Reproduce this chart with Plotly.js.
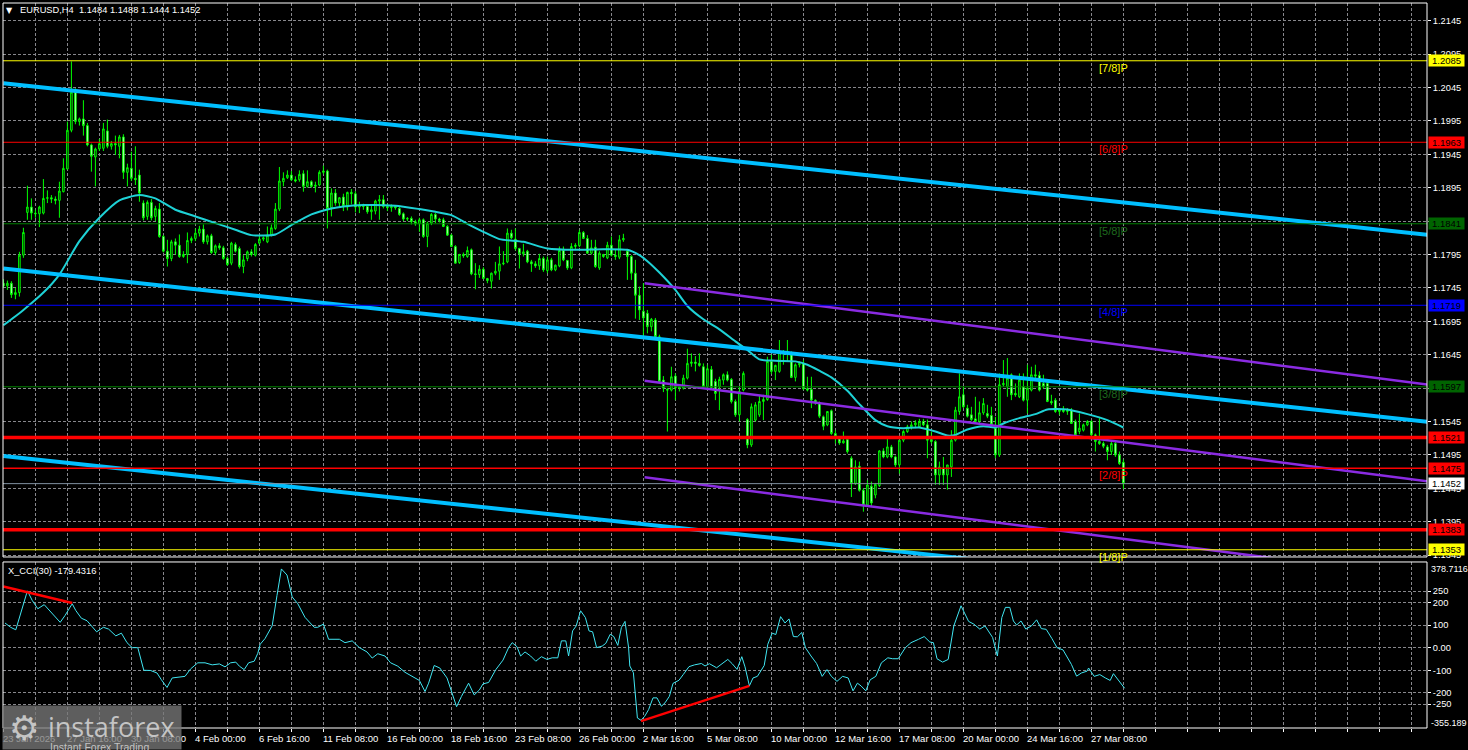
<!DOCTYPE html>
<html><head><meta charset="utf-8">
<script src="https://cdn.plot.ly/plotly-3.0.1.min.js"></script>
<style>html,body{margin:0;padding:0;background:#000;overflow:hidden}#chart{width:1468px;height:750px}</style>
</head><body><div id="chart"></div>
<script>
// ---- DATA ----
const symbolTitle = 'EURUSD,H4  1.1484 1.1488 1.1444 1.1452';
const cciTitle = 'X_CCI(30) -179.4316';

const openP = [1.1752,1.1748,1.1752,1.1735,1.1738,1.1794,1.1858,1.1866,1.1857,1.1856,
1.1857,1.1879,1.1880,1.1878,1.1876,1.1889,1.1923,1.1981,1.2038,1.1994,
1.1998,1.1988,1.1959,1.1941,1.1953,1.1954,1.1980,1.1957,1.1961,1.1957,
1.1971,1.1918,1.1924,1.1909,1.1914,1.1872,1.1852,1.1873,1.1852,1.1863,
1.1822,1.1800,1.1789,1.1814,1.1809,1.1792,1.1795,1.1816,1.1819,1.1827,
1.1833,1.1814,1.1823,1.1798,1.1808,1.1805,1.1789,1.1782,1.1810,1.1804,
1.1777,1.1789,1.1799,1.1794,1.1812,1.1818,1.1814,1.1824,1.1834,1.1863,
1.1904,1.1910,1.1914,1.1907,1.1907,1.1916,1.1897,1.1904,1.1897,1.1899,
1.1918,1.1920,1.1865,1.1887,1.1872,1.1881,1.1866,1.1888,1.1886,1.1866,
1.1869,1.1867,1.1859,1.1860,1.1875,1.1877,1.1867,1.1865,1.1867,1.1864,
1.1856,1.1848,1.1849,1.1844,1.1841,1.1847,1.1822,1.1842,1.1855,1.1848,
1.1847,1.1837,1.1824,1.1807,1.1783,1.1795,1.1792,1.1802,1.1766,1.1765,
1.1773,1.1759,1.1755,1.1767,1.1770,1.1781,1.1784,1.1827,1.1818,1.1804,
1.1796,1.1800,1.1784,1.1781,1.1778,1.1789,1.1771,1.1787,1.1772,1.1778,
1.1801,1.1786,1.1775,1.1807,1.1808,1.1828,1.1819,1.1797,1.1806,1.1775,
1.1795,1.1790,1.1809,1.1794,1.1791,1.1817,1.1800,1.1792,1.1767,1.1734,
1.1710,1.1707,1.1687,1.1697,1.1672,1.1607,1.1593,1.1592,1.1613,1.1595,
1.1595,1.1610,1.1632,1.1634,1.1632,1.1627,1.1597,1.1623,1.1605,1.1597,
1.1607,1.1615,1.1608,1.1575,1.1555,1.1592,1.1548,1.1510,1.1547,1.1555,
1.1575,1.1578,1.1635,1.1620,1.1620,1.1650,1.1647,1.1645,1.1611,1.1630,
1.1632,1.1594,1.1593,1.1577,1.1573,1.1552,1.1540,1.1561,1.1527,1.1519,
1.1513,1.1518,1.1490,1.1452,1.1478,1.1442,1.1420,1.1448,1.1435,1.1449,
1.1501,1.1492,1.1507,1.1492,1.1480,1.1517,1.1530,1.1537,1.1540,1.1537,
1.1545,1.1540,1.1518,1.1515,1.1465,1.1475,1.1465,1.1477,1.1517,1.1560,
1.1585,1.1565,1.1555,1.1549,1.1545,1.1558,1.1557,1.1554,1.1535,1.1495,
1.1600,1.1597,1.1615,1.1587,1.1582,1.1597,1.1577,1.1592,1.1615,1.1614,
1.1602,1.1602,1.1575,1.1577,1.1560,1.1563,1.1560,1.1562,1.1545,1.1530,
1.1532,1.1540,1.1545,1.1525,1.1515,1.1512,1.1507,1.1500,1.1512,1.1495,
1.1484];
const highP = [1.1758,1.1756,1.1755,1.1745,1.1799,1.1835,1.1898,1.1879,1.1862,1.1868,
1.1908,1.1891,1.1884,1.1882,1.1904,1.1939,1.1994,1.2084,1.2044,1.2000,
1.2026,1.1992,1.1961,1.1955,1.1968,1.1992,1.1997,1.1965,1.1973,1.1974,
1.1975,1.1931,1.1949,1.1957,1.1922,1.1876,1.1876,1.1878,1.1868,1.1872,
1.1824,1.1817,1.1817,1.1819,1.1825,1.1800,1.1828,1.1822,1.1834,1.1838,
1.1840,1.1825,1.1826,1.1810,1.1812,1.1808,1.1792,1.1814,1.1813,1.1807,
1.1794,1.1801,1.1803,1.1812,1.1824,1.1822,1.1837,1.1840,1.1872,1.1926,
1.1918,1.1921,1.1920,1.1912,1.1921,1.1921,1.1921,1.1906,1.1904,1.1921,
1.1928,1.1922,1.1894,1.1893,1.1881,1.1886,1.1889,1.1893,1.1890,1.1874,
1.1871,1.1869,1.1869,1.1877,1.1884,1.1884,1.1871,1.1870,1.1869,1.1866,
1.1858,1.1851,1.1852,1.1847,1.1850,1.1849,1.1844,1.1857,1.1857,1.1850,
1.1850,1.1839,1.1826,1.1809,1.1796,1.1798,1.1807,1.1804,1.1782,1.1779,
1.1776,1.1760,1.1768,1.1784,1.1807,1.1800,1.1834,1.1832,1.1834,1.1805,
1.1811,1.1802,1.1787,1.1785,1.1796,1.1792,1.1792,1.1790,1.1780,1.1807,
1.1807,1.1787,1.1812,1.1812,1.1832,1.1830,1.1824,1.1817,1.1817,1.1800,
1.1796,1.1814,1.1822,1.1802,1.1824,1.1826,1.1802,1.1794,1.1787,1.1747,
1.1752,1.1712,1.1700,1.1700,1.1675,1.1613,1.1595,1.1627,1.1617,1.1600,
1.1615,1.1654,1.1647,1.1643,1.1647,1.1632,1.1630,1.1628,1.1609,1.1612,
1.1617,1.1620,1.1610,1.1578,1.1597,1.1620,1.1550,1.1572,1.1574,1.1585,
1.1585,1.1642,1.1645,1.1630,1.1667,1.1652,1.1667,1.1650,1.1632,1.1635,
1.1637,1.1612,1.1612,1.1578,1.1575,1.1554,1.1560,1.1563,1.1532,1.1522,
1.1530,1.1520,1.1493,1.1487,1.1485,1.1445,1.1457,1.1455,1.1453,1.1502,
1.1505,1.1520,1.1510,1.1494,1.1517,1.1532,1.1540,1.1545,1.1547,1.1549,
1.1549,1.1548,1.1530,1.1517,1.1485,1.1492,1.1480,1.1532,1.1567,1.1617,
1.1597,1.1570,1.1567,1.1582,1.1575,1.1580,1.1570,1.1567,1.1552,1.1617,
1.1637,1.1640,1.1617,1.1602,1.1617,1.1617,1.1630,1.1627,1.1630,1.1620,
1.1615,1.1605,1.1585,1.1580,1.1565,1.1568,1.1565,1.1565,1.1548,1.1557,
1.1542,1.1547,1.1547,1.1527,1.1550,1.1515,1.1510,1.1517,1.1517,1.1500,
1.1488];
const lowP = [1.1745,1.1742,1.1730,1.1728,1.1732,1.1790,1.1847,1.1847,1.1850,1.1836,
1.1855,1.1872,1.1872,1.1870,1.1850,1.1888,1.1922,1.1978,1.1990,1.1988,
1.1973,1.1957,1.1919,1.1897,1.1950,1.1950,1.1954,1.1952,1.1944,1.1939,
1.1908,1.1897,1.1905,1.1899,1.1874,1.1846,1.1847,1.1846,1.1845,1.1820,
1.1798,1.1777,1.1785,1.1795,1.1790,1.1790,1.1782,1.1812,1.1815,1.1822,
1.1811,1.1810,1.1796,1.1794,1.1802,1.1787,1.1778,1.1779,1.1798,1.1774,
1.1767,1.1785,1.1792,1.1792,1.1810,1.1815,1.1812,1.1822,1.1832,1.1860,
1.1897,1.1908,1.1905,1.1903,1.1904,1.1889,1.1895,1.1895,1.1888,1.1897,
1.1915,1.1834,1.1852,1.1868,1.1866,1.1860,1.1861,1.1870,1.1858,1.1857,
1.1862,1.1856,1.1847,1.1855,1.1847,1.1864,1.1860,1.1859,1.1862,1.1853,
1.1845,1.1845,1.1840,1.1838,1.1829,1.1820,1.1806,1.1839,1.1842,1.1843,
1.1836,1.1823,1.1806,1.1782,1.1781,1.1790,1.1790,1.1764,1.1743,1.1760,
1.1758,1.1752,1.1744,1.1764,1.1757,1.1779,1.1782,1.1818,1.1801,1.1774,
1.1792,1.1782,1.1769,1.1775,1.1772,1.1769,1.1767,1.1770,1.1770,1.1776,
1.1785,1.1772,1.1773,1.1803,1.1806,1.1818,1.1796,1.1795,1.1775,1.1772,
1.1790,1.1788,1.1792,1.1787,1.1788,1.1814,1.1757,1.1757,1.1699,1.1697,
1.1672,1.1677,1.1680,1.1667,1.1602,1.1589,1.1530,1.1590,1.1577,1.1590,
1.1593,1.1608,1.1627,1.1620,1.1627,1.1595,1.1592,1.1593,1.1577,1.1562,
1.1600,1.1605,1.1572,1.1552,1.1545,1.1590,1.1505,1.1507,1.1545,1.1552,
1.1547,1.1576,1.1616,1.1607,1.1618,1.1630,1.1634,1.1610,1.1605,1.1626,
1.1592,1.1590,1.1565,1.1570,1.1550,1.1532,1.1538,1.1525,1.1512,1.1510,
1.1512,1.1497,1.1432,1.1450,1.1440,1.1410,1.1417,1.1418,1.1430,1.1447,
1.1490,1.1490,1.1490,1.1477,1.1467,1.1514,1.1528,1.1533,1.1535,1.1535,
1.1538,1.1490,1.1512,1.1450,1.1450,1.1450,1.1443,1.1462,1.1515,1.1555,
1.1565,1.1551,1.1546,1.1543,1.1540,1.1555,1.1550,1.1538,1.1490,1.1492,
1.1597,1.1582,1.1577,1.1582,1.1580,1.1575,1.1557,1.1590,1.1610,1.1590,
1.1594,1.1574,1.1570,1.1558,1.1555,1.1558,1.1555,1.1542,1.1522,1.1526,
1.1530,1.1538,1.1522,1.1500,1.1510,1.1505,1.1487,1.1495,1.1492,1.1480,
1.1444];
const closeP = [1.1748,1.1752,1.1735,1.1738,1.1794,1.1828,1.1866,1.1857,1.1856,1.1866,
1.1879,1.1880,1.1878,1.1876,1.1890,1.1924,1.1981,1.2038,1.1994,1.1998,
1.1988,1.1959,1.1942,1.1953,1.1961,1.1983,1.1957,1.1961,1.1959,1.1971,
1.1918,1.1925,1.1909,1.1907,1.1887,1.1850,1.1873,1.1850,1.1864,1.1822,
1.1800,1.1789,1.1814,1.1809,1.1792,1.1795,1.1816,1.1819,1.1827,1.1833,
1.1814,1.1823,1.1798,1.1808,1.1805,1.1789,1.1780,1.1812,1.1800,1.1777,
1.1787,1.1799,1.1795,1.1810,1.1818,1.1820,1.1824,1.1835,1.1863,1.1905,
1.1909,1.1914,1.1907,1.1905,1.1915,1.1897,1.1904,1.1897,1.1899,1.1918,
1.1920,1.1864,1.1887,1.1872,1.1880,1.1868,1.1888,1.1886,1.1866,1.1869,
1.1867,1.1859,1.1862,1.1875,1.1877,1.1867,1.1865,1.1867,1.1865,1.1855,
1.1848,1.1849,1.1844,1.1841,1.1847,1.1822,1.1842,1.1855,1.1848,1.1846,
1.1837,1.1824,1.1807,1.1782,1.1795,1.1793,1.1801,1.1766,1.1765,1.1773,
1.1759,1.1756,1.1767,1.1770,1.1781,1.1782,1.1827,1.1820,1.1804,1.1796,
1.1799,1.1784,1.1781,1.1778,1.1789,1.1772,1.1787,1.1772,1.1779,1.1801,
1.1787,1.1775,1.1807,1.1809,1.1828,1.1819,1.1797,1.1805,1.1777,1.1797,
1.1792,1.1809,1.1794,1.1792,1.1817,1.1819,1.1792,1.1767,1.1734,1.1712,
1.1700,1.1687,1.1698,1.1672,1.1605,1.1595,1.1592,1.1612,1.1595,1.1597,
1.1610,1.1632,1.1634,1.1632,1.1629,1.1597,1.1624,1.1596,1.1587,1.1608,
1.1615,1.1607,1.1575,1.1555,1.1590,1.1617,1.1510,1.1567,1.1570,1.1575,
1.1578,1.1635,1.1620,1.1629,1.1650,1.1647,1.1650,1.1611,1.1630,1.1632,
1.1594,1.1592,1.1577,1.1573,1.1553,1.1538,1.1560,1.1527,1.1523,1.1513,
1.1516,1.1500,1.1452,1.1477,1.1442,1.1420,1.1450,1.1423,1.1451,1.1501,
1.1492,1.1507,1.1492,1.1480,1.1517,1.1530,1.1537,1.1540,1.1543,1.1545,
1.1540,1.1517,1.1515,1.1465,1.1477,1.1465,1.1480,1.1517,1.1562,1.1582,
1.1567,1.1553,1.1548,1.1545,1.1558,1.1572,1.1553,1.1540,1.1495,1.1600,
1.1602,1.1610,1.1585,1.1585,1.1607,1.1577,1.1595,1.1615,1.1613,1.1592,
1.1597,1.1575,1.1573,1.1560,1.1563,1.1560,1.1562,1.1542,1.1525,1.1535,
1.1540,1.1545,1.1525,1.1515,1.1512,1.1508,1.1500,1.1512,1.1495,1.1482,
1.1452];

// moving average read at these bars
const maBar = [0,5,10,14,19,24,29,34,38,43,48,53,58,62,68,72,77,82,85,90,98,104,108,112,116,120,124,130,136,143,150,156,159,161,164,168,171,175,179,183,186,189,193,198,201,204,207,211,214,218,221,225,229,233,236,238,241,245,248,250,254,258,261,266,271,276,280];
const maVal = [1.1689,1.1712,1.1738,1.1765,1.1815,1.1850,1.1876,1.1884,1.1879,1.1862,1.1852,1.1842,1.1832,1.1824,1.1825,1.1839,1.1855,1.1864,1.1867,1.1869,1.1868,1.1863,1.1859,1.1854,1.1841,1.1829,1.1818,1.1814,1.1804,1.1802,1.1803,1.1802,1.1794,1.1785,1.1768,1.1742,1.1718,1.1698,1.1683,1.1665,1.1652,1.1638,1.1636,1.1635,1.1630,1.1621,1.1611,1.1591,1.1571,1.1547,1.1538,1.1535,1.1536,1.1530,1.1524,1.1525,1.1533,1.1538,1.1536,1.1542,1.1550,1.1556,1.1563,1.1563,1.1556,1.1547,1.1536];

// CCI(30) read at these bar positions
const cciBar = [0.4,1.8,3.1,4.5,6,7.2,8.6,10.2,11.8,13.1,14.2,15.4,17.2,18.1,19.5,20.9,22.2,23.3,25,26.3,28.1,29.5,30.9,32.2,33.6,35.1,36.8,38.4,39.5,40.9,42.2,44,45.4,46.8,48.6,50.4,52.2,54,55.4,56.8,58.1,59,60.2,61.3,62.7,63.6,64.2,65.4,67.2,68.4,69.5,70.9,72.2,73.6,75.4,77.7,78.6,80,81.3,84,85.4,87.2,89,90.9,92.2,93.6,95.4,96.8,98.6,100.4,102.2,104,105.4,106.3,107.7,109.1,110.9,112.2,113.3,114.5,116.3,117.7,119,119.9,121.3,123.1,124.9,126.3,127.2,128.4,129.3,130.4,131.8,133.1,134.5,135.9,137.2,138.6,
139.5,140.6,141.3,142.3,143.2,144.3,145.5,146.4,147.3,148.3,149.7,150.6,151.7,152.6,153.6,154.5,155.4,156.3,156.6,157.5,158.5,159.4,160.3,161.3,162.4,163.4,164.5,165.4,166.5,167.4,168.9,170,171.4,172.8,174.5,175.4,176.5,178.3,179.7,181.1,182.2,183.4,184.6,185.4,186.5,187.4,188.5,190.2,191.1,192.2,193.1,194.3,195.4,196.4,197.5,198.5,199.6,200.5,201.9,203.3,204.7,205.9,207,208.4,209.8,211.2,212.4,213.5,214.4,215.6,216.7,218.1,219.5,221.1,222.3,223.7,225.5,226.9,228.8,230.2,231.6,232.5,233.4,234.8,236.2,237.6,239.4,240.3,241.3,242.6,244.1,245.4,247.3,248.5,249.6,250.5,251.6,252.5,253.3,254.4,255.6,257,258.3,259.5,260.7,262.1,263.4,264.9,265.8,267,268.3,269.5,270.9,271.3,272.7,274.1,275.5,276.7,277.5,278.7,280.3];
const cciVal = [109,90,79,157,251,209,172,190,157,134,112,142,194,164,130,119,90,70,90,82,52,64,22,0,0,-100,-101,-112,-142,-176,-134,-130,-127,-94,-67,-67,-76,-72,-85,-67,-64,-82,-97,-67,-60,-25,15,40,97,231,348,321,224,194,134,90,90,104,37,37,22,30,0,-19,-46,-27,-37,-67,-82,-109,-127,-145,-194,-157,-79,-90,-134,-201,-261,-216,-157,-209,-187,-160,-154,-97,-55,0,22,4,-37,-19,-37,-60,-40,-52,-45,-45,
30,30,-37,74,96,163,133,74,70,0,7,19,59,49,10,89,116,0,-81,-111,-311,-321,-304,-274,-222,-222,-259,-244,-215,-158,-144,-118,-84,-76,-70,-81,-71,-89,-70,-52,-71,-96,-40,-85,-169,-134,-127,-79,15,64,58,137,109,127,49,48,67,0,-37,-70,-127,-97,-127,-149,-127,-134,-191,-157,-169,-191,-142,-127,-67,-45,-49,-49,0,22,37,49,25,22,-49,-64,-52,96,185,155,116,104,82,96,45,-37,133,178,178,118,100,118,82,96,123,84,81,41,0,-10,-37,-74,-126,-112,-104,-90,-127,-119,-134,-145,-115,-142,-179.4316];
const cciTop = 378.7116, cciBottom = -355.189;
const cciTicks = [250,200,100,0,-100,-200,-250];
const cciTickText = ['250','200','100','0.00','-100','-200','-250'];

// trend lines (bar, value)
const cciLine1Bar = [0, 17.2], cciLine1Val = [270, 197];
const cciLine2Bar = [159.4, 186.5], cciLine2Val = [-325, -169];
const chanBar = [0, 356.5];
const chanTop = [1.20513, 1.18242];
const chanMid = [1.17740, 1.15443];
const chanBot = [1.14934, 1.12658];
const purpBar = [160.3, 356.5];
const purpTop = [1.17519, 1.15999];
const purpMid = [1.16061, 1.14552];
const purpBot = [1.14615, 1.13103];

// Murray levels and other horizontal levels
const murrayLevels = [1.2085, 1.1963, 1.1841, 1.1719, 1.1597, 1.1475, 1.1353];
const murrayNames = ['[7/8]P','[6/8]P','[5/8]P','[4/8]P','[3/8]P','[2/8]P','[1/8]P'];
const srLevels = [1.1521, 1.1383];
const bidPrice = 1.1452;

const priceTicks = [1.1345,1.1395,1.1445,1.1495,1.1545,1.1595,1.1645,1.1695,1.1745,1.1795,1.1845,1.1895,1.1945,1.1995,1.2045,1.2095,1.2145];
const timeLabels = ['23 Jan 2026','27 Jan 16:00','30 Jan 08:00','4 Feb 00:00','6 Feb 16:00','11 Feb 08:00','16 Feb 00:00','18 Feb 16:00','23 Feb 08:00','26 Feb 00:00','2 Mar 16:00','5 Mar 08:00','10 Mar 00:00','12 Mar 16:00','17 Mar 08:00','20 Mar 00:00','24 Mar 16:00','27 Mar 08:00'];

// ---- STYLES ----
const FONT = 'Liberation Sans, Arial, sans-serif';
const murrayColors = ['#FFFF00','#FF0000','#008000','#0000FF','#008000','#FF0000','#FFFF00'];
const murrayBoxColors = ['#FFFF00','#FF0000','#006400','#0000FF','#006400','#FF0000','#FFFF00'];
const murrayTextColors = ['#FFFF00','#FF0000','#1E6B1E','#0000FF','#1E6B1E','#FF0000','#FFFF00'];
const gridColor = 'rgb(135,135,140)';
const LABEL_STEP = 16, GRID_STEP = 8;

const bars = closeP.map((_, i) => i);
const gridVals = [];
for (let k = 0; k <= 352; k += GRID_STEP) gridVals.push(k);

const traces = [
  {type:'candlestick', x:bars, open:openP, high:highP, low:lowP, close:closeP,
   xaxis:'x', yaxis:'y', whiskerwidth:0, hoverinfo:'skip', showlegend:false,
   increasing:{line:{color:'#00FF00', width:1}, fillcolor:'#000000'},
   decreasing:{line:{color:'#00FF00', width:1}, fillcolor:'#FFFFFF'}},
  {type:'scatter', mode:'lines', x:maBar, y:maVal, xaxis:'x', yaxis:'y',
   line:{color:'#1ED2D6', width:2, shape:'spline', smoothing:0.6}, hoverinfo:'skip', showlegend:false},
];
[chanTop, chanMid, chanBot].forEach(v => traces.push({type:'scatter', mode:'lines', x:chanBar, y:v,
  xaxis:'x', yaxis:'y', line:{color:'#00BFFF', width:4}, hoverinfo:'skip', showlegend:false}));
[purpTop, purpMid, purpBot].forEach(v => traces.push({type:'scatter', mode:'lines', x:purpBar, y:v,
  xaxis:'x', yaxis:'y', line:{color:'#8A2BE2', width:2.5}, hoverinfo:'skip', showlegend:false}));
traces.push({type:'scatter', mode:'lines', x:cciBar, y:cciVal, xaxis:'x', yaxis:'y2',
  line:{color:'#40E6F2', width:1}, hoverinfo:'skip', showlegend:false});
traces.push({type:'scatter', mode:'lines', x:cciLine1Bar, y:cciLine1Val, xaxis:'x', yaxis:'y2',
  line:{color:'#FF0000', width:2.5}, hoverinfo:'skip', showlegend:false});
traces.push({type:'scatter', mode:'lines', x:cciLine2Bar, y:cciLine2Val, xaxis:'x', yaxis:'y2',
  line:{color:'#FF0000', width:2.5}, hoverinfo:'skip', showlegend:false});

const shapes = [];
murrayLevels.forEach((p, k) => shapes.push({type:'line', xref:'x domain', x0:0, x1:1, yref:'y', y0:p, y1:p,
  line:{color:murrayColors[k], width: p === 1.1475 ? 1.5 : 1}, layer:'above'}));
srLevels.forEach(p => shapes.push({type:'line', xref:'x domain', x0:0, x1:1, yref:'y', y0:p, y1:p,
  line:{color:'#FF0000', width:3.5}, layer:'above'}));
shapes.push({type:'line', xref:'x domain', x0:0, x1:1, yref:'y', y0:bidPrice, y1:bidPrice,
  line:{color:'#8090A0', width:1}, layer:'above'});
shapes.push({type:'rect', xref:'x domain', yref:'y domain', x0:0, x1:1, y0:0, y1:1, line:{color:'#FFFFFF', width:1}, layer:'above'});
shapes.push({type:'rect', xref:'x domain', yref:'y2 domain', x0:0, x1:1, y0:0, y1:1, line:{color:'#FFFFFF', width:1}, layer:'above'});

const annotations = [];
// time labels, left-aligned on their tick like the terminal does
timeLabels.forEach((t, j) => annotations.push({xref:'x', yref:'paper', x:j * LABEL_STEP, y:0,
  xanchor:'left', yanchor:'top', yshift:-3, xshift:-2, text:t, showarrow:false,
  font:{family:FONT, size:9.5, color:'#FFFFFF'}}));
annotations.push({xref:'paper', yref:'paper', x:0.0049, y:0.9903, xanchor:'center', yanchor:'middle',
  text:'▼', showarrow:false, font:{family:'DejaVu Sans', size:8, color:'#FFFFFF'}});
annotations.push({xref:'paper', yref:'paper', x:0.0105, y:0.9903, xanchor:'left', yanchor:'middle',
  text:symbolTitle.replace('  ', '&nbsp;&nbsp;'), showarrow:false, font:{family:FONT, size:9.3, color:'#FFFFFF'}});
annotations.push({xref:'paper', yref:'paper', x:0.0021, y:0.2166, xanchor:'left', yanchor:'middle',
  text:cciTitle, showarrow:false, font:{family:FONT, size:9.3, color:'#FFFFFF'}});
murrayLevels.forEach((p, k) => {
  annotations.push({xref:'x', yref:'y', x:273.4, y:p, xanchor:'left', yanchor:'top', yshift:1,
    text:murrayNames[k], showarrow:false, font:{family:FONT, size:11, color:murrayTextColors[k]}});
});
function priceBox(p, bg, fg) {
  annotations.push({xref:'paper', yref:'y', x:1, y:p, xanchor:'left', yanchor:'middle', xshift:1,
    text:p.toFixed(4), showarrow:false, bgcolor:bg, borderpad:0, width:35, height:11, align:'center',
    font:{family:FONT, size:9.5, color:fg}});
}
murrayLevels.forEach((p, k) => priceBox(p, murrayBoxColors[k], '#000000'));
srLevels.forEach(p => priceBox(p, '#FF0000', '#000000'));
priceBox(bidPrice, '#FFFFFF', '#000000');
annotations.push({xref:'paper', yref:'paper', x:1, y:0.2193, xanchor:'left', yanchor:'middle', xshift:2,
  text:cciTop.toFixed(4), showarrow:false, font:{family:FONT, size:9, color:'#FFFFFF'}});
annotations.push({xref:'paper', yref:'paper', x:1, y:0.0069, xanchor:'left', yanchor:'middle', xshift:2,
  text:cciBottom.toFixed(3), showarrow:false, font:{family:FONT, size:9, color:'#FFFFFF'}});
// watermark: translucent box drawn over the first time labels, then the logo texts
annotations.push({xref:'paper', yref:'paper', x:-0.0007, y:-0.0303, xanchor:'left', yanchor:'bottom',
  text:' ', showarrow:false, bgcolor:'rgba(120,120,120,0.78)', borderpad:0, width:178, height:43});
annotations.push({xref:'paper', yref:'paper', x:0.0147, y:0.0, xanchor:'center', yanchor:'middle',
  text:'⚙', showarrow:false, font:{family:'DejaVu Sans', size:34, color:'rgba(215,215,215,0.85)'}});
annotations.push({xref:'paper', yref:'paper', x:0.0300, y:0.002, xanchor:'left', yanchor:'middle',
  text:'instaforex', showarrow:false, font:{family:'Open Sans, Roboto, sans-serif', size:27, color:'rgba(215,215,215,0.85)'}});
annotations.push({xref:'paper', yref:'paper', x:0.0316, y:-0.0262, xanchor:'left', yanchor:'middle',
  text:'Instant Forex Trading', showarrow:false, font:{family:FONT, size:10.5, color:'rgba(215,215,215,0.85)'}});

const tickFont = {family:FONT, size:9.3, color:'#FFFFFF'};
const layout = {
  width:1468, height:750,
  margin:{l:3, r:41, t:3, b:22, pad:0},
  paper_bgcolor:'#000000', plot_bgcolor:'#000000',
  showlegend:false, hovermode:false, boxgap:0.45,
  xaxis:{domain:[0,1], range:[-0.1, 355.9], anchor:'y2', tickmode:'array', tickvals:gridVals,
    showticklabels:false,
    showgrid:true, gridcolor:gridColor, griddash:'3px,2px', gridwidth:1, zeroline:false, showline:false,
    ticks:'outside', ticklen:3, tickcolor:'#FFFFFF',
    rangeslider:{visible:false}, fixedrange:true},
  yaxis:{domain:[0.2359,1], range:[1.13422,1.21715], side:'right', anchor:'x', tickmode:'array',
    tickvals:priceTicks, ticktext:priceTicks.map(v => v.toFixed(4)),
    showgrid:true, gridcolor:gridColor, griddash:'3px,2px', gridwidth:1, zeroline:false, showline:false,
    ticks:'outside', ticklen:3, tickcolor:'#FFFFFF', tickfont:tickFont, fixedrange:true},
  yaxis2:{domain:[0,0.229], range:[cciBottom, cciTop], side:'right', anchor:'x', tickmode:'array',
    tickvals:cciTicks, ticktext:cciTickText,
    showgrid:true, gridcolor:gridColor, griddash:'3px,2px', gridwidth:1, zeroline:false, showline:false,
    ticks:'outside', ticklen:3, tickcolor:'#FFFFFF', tickfont:tickFont, fixedrange:true},
  shapes, annotations
};
Plotly.newPlot('chart', traces, layout, {staticPlot:true, displayModeBar:false});
</script>
</body></html>
